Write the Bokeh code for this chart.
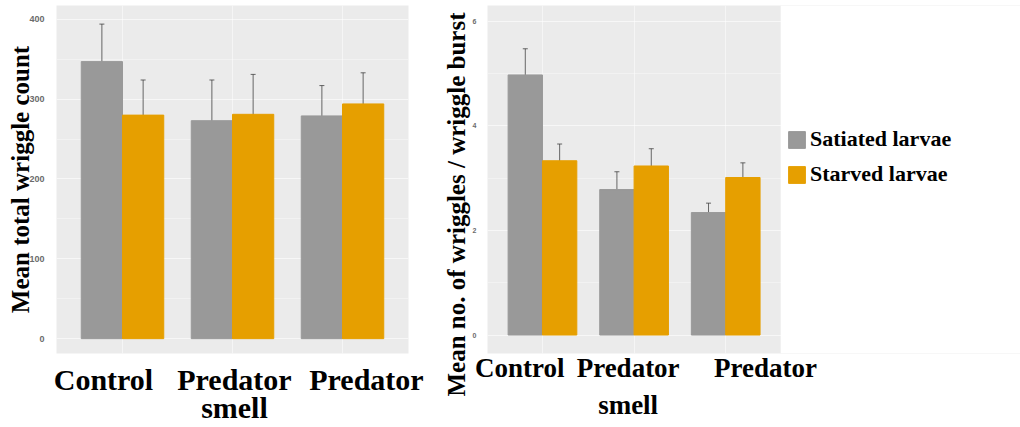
import numpy as np
from bokeh.plotting import figure
from bokeh.models import (ColumnDataSource, Range1d, Whisker, Legend, Title,
                          LegendItem, FixedTicker, TeeHead, BoxAnnotation)
from bokeh.layouts import row
from bokeh.embed import file_html
from bokeh.resources import INLINE

# ---------------- data ----------------
groups = ["Control", "Predator\nsmell", "Predator"]
series = ["Satiated larvae", "Starved larvae"]
colors = ["#999999", "#E69F00"]

total_satiated = [347, 273, 279]
total_satiated_lo = [300, 222, 241]
total_satiated_hi = [394, 324, 317]
total_starved = [280, 281, 294]
total_starved_lo = [237, 232, 256]
total_starved_hi = [324, 331, 333]

burst_satiated = [4.97, 2.78, 2.34]
burst_satiated_lo = [4.48, 2.45, 2.15]
burst_satiated_hi = [5.47, 3.12, 2.52]
burst_starved = [3.33, 3.23, 3.01]
burst_starved_lo = [3.01, 2.91, 2.76]
burst_starved_hi = [3.65, 3.56, 3.29]

left_ticks = [0, 100, 200, 300, 400]
right_ticks = [0, 2, 4, 6]

SERIF = "Liberation Serif"
SANS = "Liberation Sans"
BAR_W = 0.375
PANEL_END = 3.6


def style_y(p, ticks, minor, tick_size, tick_standoff):
    p.yaxis.ticker = FixedTicker(ticks=ticks, minor_ticks=minor)
    p.ygrid.grid_line_color = "white"
    p.ygrid.grid_line_alpha = 0.6
    p.ygrid.minor_grid_line_color = "white"
    p.ygrid.minor_grid_line_alpha = 0.35
    p.yaxis.axis_line_color = None
    p.yaxis.major_tick_line_color = None
    p.yaxis.minor_tick_line_color = None
    p.yaxis.major_label_text_font = SANS
    p.yaxis.major_label_text_font_style = "bold"
    p.yaxis.major_label_text_font_size = f"{tick_size}px"
    p.yaxis.major_label_text_color = "#6b6b6b"
    p.yaxis.major_label_standoff = tick_standoff


def style_x(p, label_x, size, line_height, standoff):
    p.xaxis.ticker = FixedTicker(ticks=label_x)
    p.xaxis.major_label_overrides = {x: g for x, g in zip(label_x, groups)}
    p.xaxis.axis_line_color = None
    p.xaxis.major_tick_line_color = None
    p.xaxis.minor_tick_line_color = None
    p.xaxis.major_label_text_font = SERIF
    p.xaxis.major_label_text_font_style = "bold"
    p.xaxis.major_label_text_font_size = f"{size}px"
    p.xaxis.major_label_text_color = "black"
    p.xaxis.major_label_text_line_height = line_height
    p.xaxis.major_label_standoff = standoff


def add_bars(p, values):
    idx = np.arange(1, len(groups) + 1)
    renderers = []
    for k, (vals, lo, hi) in enumerate(values):
        off = (k - 0.5) * BAR_W
        src = ColumnDataSource(dict(x=idx + off, top=vals, lo=lo, hi=hi))
        r = p.vbar(x="x", top="top", bottom=0, width=BAR_W, source=src,
                   fill_color=colors[k], line_color=colors[k])
        renderers.append(r)
        w = Whisker(base="x", upper="hi", lower="lo", source=src,
                    line_color="#3a3a3a", line_alpha=0.75, line_width=1,
                    upper_head=TeeHead(size=5, line_color="#3a3a3a", line_alpha=0.75),
                    lower_head=TeeHead(size=5, line_color="#3a3a3a", line_alpha=0.75))
        p.add_layout(w)
    p.xgrid.ticker = FixedTicker(ticks=list(idx))
    p.xgrid.grid_line_color = "white"
    p.xgrid.grid_line_alpha = 0.5
    return renderers


# ---------------- left panel ----------------
p1 = figure(width=440, height=427, output_backend="svg", toolbar_location=None,
            x_range=Range1d(0.4, 3.6), y_range=Range1d(-18.6, 417.3),
            min_border_left=56, min_border_right=32, min_border_top=5,
            min_border_bottom=70)
p1.background_fill_color = "#EBEBEB"
p1.outline_line_color = None
add_bars(p1, [(total_satiated, total_satiated_lo, total_satiated_hi),
              (total_starved, total_starved_lo, total_starved_hi)])
style_y(p1, left_ticks, [50, 150, 250, 350], 9, 6)
p1.yaxis.axis_label = "Mean total wriggle count"
p1.yaxis.axis_label_text_font = SERIF
p1.yaxis.axis_label_text_font_style = "bold"
p1.yaxis.axis_label_text_font_size = "25px"
p1.yaxis.axis_label_text_color = "black"
p1.yaxis.axis_label_standoff = -8
p1.yaxis.axis_label_text_line_height = 1.0
style_x(p1, [0.827, 2.018, 3.218], 30, 0.87, 3)

# ---------------- right panel ----------------
# the frame runs to the page edge; the grey plotting area ends at x = 3.6
p2 = figure(width=580, height=427, output_backend="svg", toolbar_location=None,
            x_range=Range1d(0.4, 0.4 + 533.3 / 91.67),
            y_range=Range1d(-0.353, 6.297),
            min_border_left=47, min_border_right=0, min_border_top=5,
            min_border_bottom=70)
p2.background_fill_color = "#EBEBEB"
p2.outline_line_color = None
p2.add_layout(BoxAnnotation(left=PANEL_END, fill_color="white", fill_alpha=1,
                            line_color=None, level="underlay"))
rs = add_bars(p2, [(burst_satiated, burst_satiated_lo, burst_satiated_hi),
                   (burst_starved, burst_starved_lo, burst_starved_hi)])
style_y(p2, right_ticks, [1, 3, 5], 7, 5)
style_x(p2, [0.752, 1.935, 3.435], 27, 1.26, -7)

# y-axis title of the right panel (it reaches below the plotting area)
p2.add_layout(Title(text="Mean no. of wriggles / wriggle burst", align="left",
                    offset=-43, standoff=0, text_font=SERIF,
                    text_font_style="bold", text_font_size="25px",
                    text_color="black", text_line_height=1.0), "left")

legend = Legend(items=[LegendItem(label=s, renderers=[r]) for s, r in zip(series, rs)],
                location=(299, 166), glyph_width=21, glyph_height=21,
                label_text_font=SERIF, label_text_font_style="bold",
                label_text_font_size="22px", label_text_color="black",
                label_standoff=3, spacing=9, padding=0, margin=0,
                border_line_color=None, background_fill_alpha=0)
p2.add_layout(legend, "center")

layout = row(p1, p2)
open("out.html", "w").write(file_html(layout, INLINE))
